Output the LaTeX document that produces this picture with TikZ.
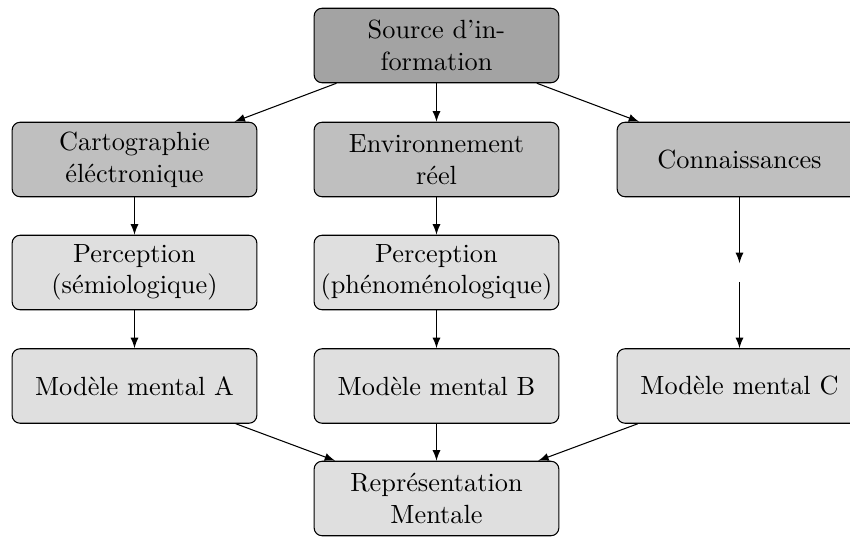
\documentclass[tikz,border=0pt]{standalone}
\usetikzlibrary{arrows}
\definecolor{gdark}{gray}{0.64}
\definecolor{gmid}{gray}{0.75}
\definecolor{glight}{gray}{0.875}
\begin{document}
\begin{tikzpicture}[x=0.38pt,y=-0.38pt,
  box/.style={draw, rounded corners=3pt, align=center, minimum width=93pt,
    minimum height=28.3pt, inner xsep=1pt, font=\fontsize{10pt}{12pt}\selectfont},
  lvl1/.style={box, fill=gdark},
  lvl2/.style={box, fill=gmid},
  lvl3/.style={box, fill=glight},
  arr/.style={-latex}]
\clip (0,0) rectangle (850,537);
\useasboundingbox (0,0) rectangle (850,537);
\node[lvl1] (src) at (436.5,45.5) {Source d'in-\\formation};
\node[lvl2] (cart) at (134.5,159.5) {Cartographie\\éléctronique};
\node[lvl2] (env) at (436.5,159.5) {Environnement\\réel};
\node[lvl2] (conn) at (739.5,159.5) {Connaissances};
\node[lvl3] (pa) at (134.5,272.5) {Perception\\(sémiologique)};
\node[lvl3] (pb) at (436.5,272.5) {Perception\\(phénoménologique)};
\node (e3) at (739.5,272.5) {};
\node[lvl3] (ma) at (134.5,386) {Modèle mental A};
\node[lvl3] (mb) at (436.5,386) {Modèle mental B};
\node[lvl3] (mc) at (739.5,386) {Modèle mental C};
\node[lvl3] (rep) at (436.5,498.5) {Représentation\\Mentale};
\draw[arr] (src) -- (cart);
\draw[arr] (src) -- (env);
\draw[arr] (src) -- (conn);
\draw[arr] (cart) -- (pa);
\draw[arr] (pa) -- (ma);
\draw[arr] (env) -- (pb);
\draw[arr] (pb) -- (mb);
\draw[arr] (conn) -- (e3);
\draw[arr] (e3) -- (mc);
\draw[arr] (ma) -- (rep);
\draw[arr] (mb) -- (rep);
\draw[arr] (mc) -- (rep);
\end{tikzpicture}
\end{document}
